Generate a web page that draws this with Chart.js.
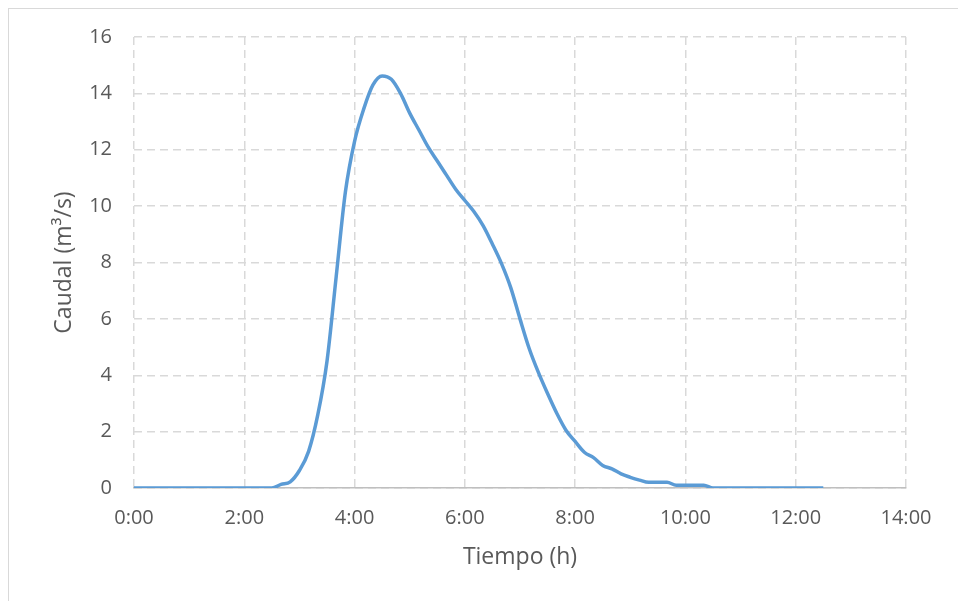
<!DOCTYPE html>
<html>
<head>
<meta charset="utf-8">
<script src="https://cdn.jsdelivr.net/npm/chart.js@4.4.0/dist/chart.umd.min.js"></script>
<style>
  html, body { margin: 0; padding: 0; background: #fff; }
  #wrap { position: relative; width: 958px; height: 601px; overflow: hidden; }
  #frame { position: absolute; left: 8px; top: 8px; width: 960px; height: 600px; border: 1px solid #d9d9d9; }
  canvas { position: absolute; left: 0; top: 0; }
</style>
</head>
<body>
<div id="wrap">
  <div id="frame"></div>
  <canvas id="hidrograma" width="958" height="601"></canvas>
</div>
<script>
// tiempo en minutos desde el inicio, caudal en m3/s
var minutos = [0, 140, 150, 160, 170, 180, 190, 200, 210, 220, 230, 240, 250, 260, 270, 280, 290, 300,
  310, 320, 330, 340, 350, 360, 370, 380, 390, 400, 410, 420, 430, 440, 450, 460, 470, 480,
  490, 500, 510, 520, 530, 540, 550, 560, 570, 580, 590, 600, 610, 620, 630, 690, 750];
var caudal = [0, 0, 0, 0.13, 0.22, 0.62, 1.3, 2.6, 4.5, 7.5, 10.5, 12.3, 13.45, 14.3, 14.62, 14.5, 14.0, 13.3,
  12.7, 12.1, 11.6, 11.1, 10.6, 10.2, 9.8, 9.3, 8.65, 7.95, 7.1, 6.0, 4.95, 4.1, 3.35, 2.65, 2.05, 1.65,
  1.27, 1.08, 0.8, 0.68, 0.5, 0.38, 0.28, 0.2, 0.2, 0.2, 0.1, 0.1, 0.1, 0.1, 0, 0, 0];
var ticksX = [0, 120, 240, 360, 480, 600, 720, 840];

var puntos = [];
for (var i in minutos) {
  puntos.push({x: minutos[i], y: caudal[i]});
}

var fuente = '"Open Sans", "Liberation Sans", sans-serif';
var gris = '#595959';

var ctx = document.getElementById('hidrograma');
var grafico = new Chart(ctx, {
  type: 'line',
  data: {
    datasets: [
      {
        label: 'Caudal',
        data: puntos,
        borderColor: '#5B9BD5',
        backgroundColor: '#5B9BD5',
        borderWidth: 3.5,
        pointRadius: 0,
        cubicInterpolationMode: 'monotone',
        fill: false
      }
    ]
  },
  options: {
    responsive: false,
    animation: false,
    layout: { padding: { left: 51, right: 52, top: 37, bottom: 30 } },
    plugins: { legend: { display: false }, tooltip: { enabled: false } },
    scales: {
      x: {
        type: 'linear',
        min: 0,
        max: 840,
        afterBuildTicks: function(scale) {
          scale.ticks = ticksX.map(function(v) { return {value: v}; });
        },
        afterFit: function(scale) { scale.height = 83; },
        grid: { color: '#d9d9d9', lineWidth: 1.5, drawTicks: false },
        border: { display: true, color: '#bfbfbf', width: 1.5, dash: [8, 5] },
        ticks: {
          padding: 18,
          color: gris,
          font: { family: fuente, size: 20 },
          maxRotation: 0,
          callback: function(v) { return Math.floor(v / 60) + ':00'; }
        },
        title: {
          display: true,
          text: 'Tiempo (h)',
          color: gris,
          font: { family: fuente, size: 23 },
          padding: { top: 4, bottom: 0 }
        }
      },
      y: {
        min: 0,
        max: 16,
        afterFit: function(scale) { scale.width = 83; },
        grid: { color: '#d9d9d9', lineWidth: 1.5, drawTicks: false },
        border: { display: false, dash: [8, 5] },
        ticks: {
          stepSize: 2,
          padding: 22,
          color: gris,
          font: { family: fuente, size: 20 }
        },
        title: {
          display: true,
          text: 'Caudal (m³/s)',
          color: gris,
          font: { family: fuente, size: 23 },
          padding: { top: 0, bottom: 4 }
        }
      }
    }
  }
});
</script>
</body>
</html>
